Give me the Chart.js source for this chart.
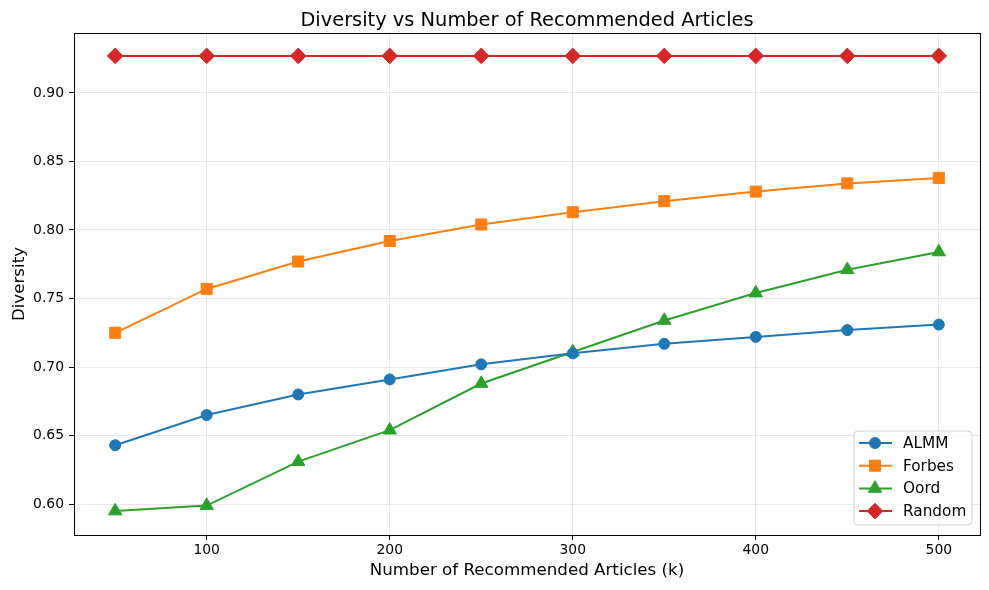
<!DOCTYPE html>
<html>
<head>
<meta charset="utf-8">
<script src="https://cdn.jsdelivr.net/npm/chart.js@4/dist/chart.umd.min.js"></script>
<style>
  html, body { margin: 0; padding: 0; background: #fff; }
  #wrap { width: 989px; height: 590px; }
</style>
</head>
<body>
<div id="wrap"><canvas id="divChart" width="989" height="590"></canvas></div>
<script>
// --- data ---
const kValues = [50, 100, 150, 200, 250, 300, 350, 400, 450, 500];
const almm   = [0.643, 0.665, 0.680, 0.691, 0.702, 0.710, 0.717, 0.722, 0.727, 0.731];
const forbes = [0.725, 0.757, 0.777, 0.792, 0.804, 0.813, 0.821, 0.828, 0.834, 0.838];
const oord   = [0.595, 0.599, 0.631, 0.654, 0.688, 0.711, 0.734, 0.754, 0.771, 0.784];
const random = [0.927, 0.927, 0.927, 0.927, 0.927, 0.927, 0.927, 0.927, 0.927, 0.927];
const seriesNames = ['ALMM', 'Forbes', 'Oord', 'Random'];
const xTicks = [100, 200, 300, 400, 500];
const yTicks = [0.60, 0.65, 0.70, 0.75, 0.80, 0.85, 0.90];
const chartTitle = 'Diversity vs Number of Recommended Articles';

const FONT = 'DejaVu Sans';

function toPoints(vals) {
  return kValues.map((k, i) => ({ x: k, y: vals[i] }));
}

function makeSet(label, vals, color, style, radius) {
  return {
    label: label,
    data: toPoints(vals),
    borderColor: color,
    backgroundColor: color,
    pointBackgroundColor: color,
    pointBorderColor: color,
    pointBorderWidth: 1,
    pointStyle: style,
    pointRadius: radius,
    borderWidth: 2,
    tension: 0
  };
}

// title over the axes, frame and legend inside the axes (matplotlib look)
const framePlugin = {
  id: 'frame',
  afterDraw(chart) {
    const { ctx, chartArea: a } = chart;
    ctx.save();
    ctx.strokeStyle = '#000';
    ctx.lineWidth = 1;
    ctx.strokeRect(Math.round(a.left) + 0.5, Math.round(a.top) + 0.5,
      Math.round(a.right - a.left), Math.round(a.bottom - a.top));

    ctx.fillStyle = '#000';
    ctx.font = '19.4px "' + FONT + '"';
    ctx.textAlign = 'center';
    ctx.textBaseline = 'alphabetic';
    ctx.fillText(chartTitle, (a.left + a.right) / 2, 26);

    // legend box
    const bx = 854, by = 431, bw = 118, bh = 94, r = 4;
    ctx.fillStyle = 'rgba(255,255,255,0.8)';
    ctx.strokeStyle = '#d0d0d0';
    ctx.beginPath();
    ctx.moveTo(bx + r, by);
    ctx.arcTo(bx + bw, by, bx + bw, by + bh, r);
    ctx.arcTo(bx + bw, by + bh, bx, by + bh, r);
    ctx.arcTo(bx, by + bh, bx, by, r);
    ctx.arcTo(bx, by, bx + bw, by, r);
    ctx.closePath();
    ctx.fill();
    ctx.stroke();

    ctx.font = '15.3px "' + FONT + '"';
    ctx.textAlign = 'left';
    ctx.textBaseline = 'middle';
    chart.data.datasets.forEach((ds, i) => {
      const y = 443 + i * 22.7;
      ctx.strokeStyle = ds.borderColor;
      ctx.lineWidth = 2;
      ctx.beginPath();
      ctx.moveTo(859, y);
      ctx.lineTo(892, y);
      ctx.stroke();
      ctx.fillStyle = ds.pointBackgroundColor;
      ctx.lineWidth = 1;
      Chart.helpers.drawPoint(ctx, { pointStyle: ds.pointStyle, radius: ds.pointRadius, rotation: 0, borderWidth: 1 }, 875, y);
      ctx.fillStyle = '#000';
      ctx.fillText(seriesNames[i], 903, y + 1);
    });
    ctx.restore();
  }
};

new Chart(document.getElementById('divChart'), {
  type: 'line',
  data: {
    datasets: [
      makeSet(seriesNames[0], almm,   '#1f77b4', 'circle',   5.5),
      makeSet(seriesNames[1], forbes, '#ff7f0e', 'rect',     7.8),
      makeSet(seriesNames[2], oord,   '#2ca02c', 'triangle', 7.7),
      makeSet(seriesNames[3], random, '#d62728', 'rectRot',  7.8)
    ]
  },
  options: {
    responsive: false,
    animation: false,
    devicePixelRatio: 1,
    layout: { padding: { left: 0, right: 9, top: 33, bottom: 0 } },
    plugins: {
      legend: { display: false },
      tooltip: { enabled: false },
      title: { display: false }
    },
    scales: {
      x: {
        type: 'linear',
        min: 27.5,
        max: 522.5,
        afterBuildTicks(scale) {
          scale.ticks = xTicks.map(v => ({ value: v }));
        },
        afterFit(scale) { scale.height = 55; },
        grid: { color: 'rgba(176,176,176,0.3)', tickColor: '#000', tickLength: 5 },
        border: { color: '#000' },
        ticks: { color: '#000', font: { family: FONT, size: 13.9 }, padding: 2, maxRotation: 0 },
        title: {
          display: true,
          text: 'Number of Recommended Articles (k)',
          color: '#000',
          font: { family: FONT, size: 16.7 },
          padding: { top: 0, bottom: 9 }
        }
      },
      y: {
        min: 0.5775,
        max: 0.9437,
        afterBuildTicks(scale) {
          scale.ticks = yTicks.map(v => ({ value: v }));
        },
        afterFit(scale) { scale.width = 74; },
        grid: { color: 'rgba(176,176,176,0.3)', tickColor: '#000', tickLength: 5 },
        border: { color: '#000' },
        ticks: {
          color: '#000',
          font: { family: FONT, size: 13.9 },
          padding: 5,
          callback: v => v.toFixed(2)
        },
        title: {
          display: true,
          text: 'Diversity',
          color: '#000',
          font: { family: FONT, size: 16.7 },
          padding: { top: 10, bottom: 0 }
        }
      }
    }
  },
  plugins: [framePlugin]
});
</script>
</body>
</html>
